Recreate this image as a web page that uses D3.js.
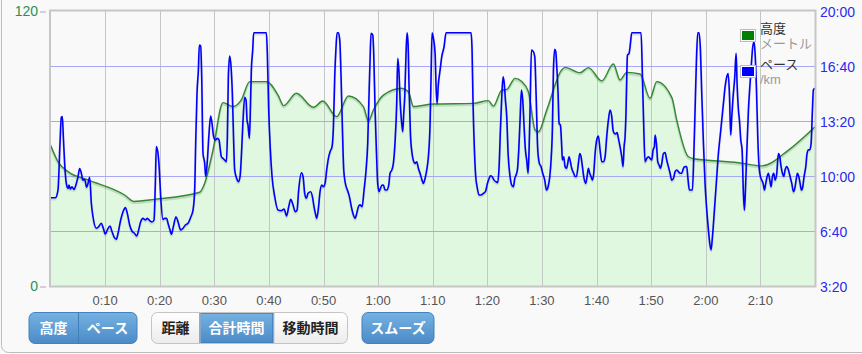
<!DOCTYPE html>
<html>
<head>
<meta charset="utf-8">
<script src="https://cdn.jsdelivr.net/npm/d3@7"></script>
<style>
  body { margin: 0; background: #f9f9f9; }
  svg { display: block; font-family: "Liberation Sans", "Noto Sans CJK JP", sans-serif; }
</style>
</head>
<body>
<svg id="chart" width="862" height="354"></svg>
<script>
// elevation [minutes, metres]
const elevSeries = [
  [0, 61.5], [1.37, 54.3], [3.21, 49.9], [6.87, 46.3], [13.58, 39.7], [15.29, 36.9],
  [19.08, 37.8], [27.32, 40.9], [28.24, 44.8], [29.76, 59.3], [31.59, 80.0], [33.43, 78.3],
  [34.95, 81.2], [36.48, 89.2], [39.53, 89.2], [41.67, 83.3], [42.7, 78.7], [45.02, 84.1],
  [48.14, 78.0], [49.85, 80.7], [52.42, 73.9], [54.55, 82.9], [57.3, 78.3], [58.22, 72.0],
  [59.13, 76.8], [60.96, 83.3], [64.32, 86.3], [65.54, 84.8], [66.46, 78.3], [70.12, 79.4],
  [77.45, 79.7], [80.19, 80.9], [81.11, 78.5], [82.64, 85.5], [83.55, 85.8], [85.08, 90.6],
  [86.3, 89.2], [87.52, 84.8], [88.74, 68.1], [89.35, 67.3], [90.88, 76.8], [93.62, 94.3],
  [94.23, 95.4], [96.98, 93.1], [98.51, 95.3], [100.95, 89.5], [103.08, 96.9], [104.3, 89.9],
  [105.53, 93.2], [107.97, 92.5], [109.8, 81.9], [111.02, 89.2], [113.77, 82.3], [114.68, 72.4],
  [116.82, 56.4], [118.04, 55.4], [119.87, 55.0], [125.98, 53.8], [130.25, 52.4], [135.14, 59.3],
  [140, 69.5]
];

// pace [minutes, seconds per km]
const paceSeries = [
  [0, 521], [0.89, 521], [1.37, 549], [1.74, 719], [1.98, 813], [2.17, 816], [2.35, 743], [2.59, 646],
  [2.9, 573], [3.21, 555], [3.39, 567], [3.63, 553], [3.94, 561], [4.3, 551], [4.73, 573], [5.04, 598],
  [5.34, 627], [5.65, 610], [5.95, 585], [6.26, 588], [6.62, 559], [6.87, 573], [7.17, 595], [7.48, 501],
  [7.78, 452], [8.39, 410], [8.82, 416], [9.31, 428], [9.68, 410], [10.04, 389], [10.41, 404], [10.9, 418],
  [11.26, 398], [11.63, 379], [12.06, 370], [12.36, 391], [12.85, 440], [13.28, 470], [13.71, 485], [14.07, 464],
  [14.5, 422], [14.92, 400], [15.41, 391], [15.78, 382], [16.15, 404], [16.51, 434], [16.94, 446], [17.37, 440],
  [17.73, 446], [18.16, 438], [18.59, 433], [18.96, 440], [19.2, 573], [19.38, 707], [19.69, 682], [19.93, 622],
  [20.18, 525], [20.6, 442], [20.91, 446], [21.28, 446], [21.52, 428], [21.89, 404], [22.13, 388], [22.5, 416],
  [22.98, 452], [23.35, 434], [23.84, 404], [24.27, 410], [24.7, 422], [25.18, 428], [25.67, 450], [26.1, 476],
  [26.4, 549], [26.59, 719], [26.83, 901], [27.08, 985], [27.26, 1076], [27.5, 1073], [27.69, 961], [27.93, 682],
  [28.24, 646], [28.42, 598], [28.73, 658], [29.03, 755], [29.33, 818], [29.58, 791], [29.88, 743], [30.19, 731],
  [30.56, 737], [30.86, 731], [31.1, 695], [31.29, 670], [31.59, 664], [31.9, 658], [32.2, 652], [32.39, 743],
  [32.57, 961], [32.82, 1036], [33.06, 998], [33.3, 901], [33.55, 719], [33.73, 622], [34.1, 591], [34.4, 579],
  [34.71, 598], [34.95, 670], [35.2, 779], [35.56, 886], [35.81, 876], [35.99, 804], [36.17, 785], [36.42, 737],
  [36.6, 840], [36.78, 985], [37.03, 1058], [37.21, 1121], [39.53, 1121], [39.71, 1046], [39.96, 840], [40.26, 695],
  [40.57, 598], [41.06, 525], [41.67, 476], [42.28, 474], [42.77, 480], [43.25, 455], [43.62, 488], [43.99, 515],
  [44.41, 495], [44.84, 470], [45.15, 476], [45.45, 549], [45.94, 612], [46.25, 598], [46.55, 537], [46.86, 519],
  [47.16, 537], [47.65, 543], [48.02, 519], [48.26, 488], [48.51, 464], [48.75, 446], [49.06, 482], [49.36, 543],
  [49.67, 567], [49.97, 561], [50.28, 573], [50.58, 622], [50.89, 664], [51.19, 688], [51.56, 707], [51.81, 779],
  [52.05, 961], [52.29, 1070], [52.48, 1121], [52.72, 1121], [52.97, 1094], [53.21, 961], [53.45, 779], [53.7, 622],
  [54.0, 573], [54.37, 549], [54.74, 525], [55.16, 482], [55.47, 458], [55.77, 446], [56.08, 464], [56.38, 488],
  [56.69, 495], [57.06, 488], [57.42, 549], [57.79, 622], [58.09, 719], [58.34, 901], [58.52, 1022], [58.7, 1119],
  [59.01, 1113], [59.19, 1046], [59.44, 840], [59.68, 695], [59.92, 573], [60.17, 543], [60.41, 555], [60.72, 567],
  [60.96, 567], [61.27, 549], [61.57, 549], [61.94, 567], [62.18, 610], [62.55, 624], [62.79, 646], [63.1, 725],
  [63.4, 864], [63.59, 1028], [63.83, 973], [64.02, 876], [64.26, 804], [64.5, 761], [64.69, 828], [64.87, 888],
  [65.11, 1046], [65.3, 1121], [65.48, 1082], [65.66, 925], [65.91, 755], [66.21, 682], [66.52, 652], [66.76, 646],
  [67.07, 652], [67.37, 628], [67.68, 610], [68.04, 585], [68.29, 573], [68.59, 591], [68.9, 622], [69.2, 670],
  [69.51, 791], [69.69, 961], [69.88, 1121], [70.12, 1101], [70.43, 1046], [70.61, 925], [70.79, 864], [71.04, 937],
  [71.34, 985], [71.65, 1034], [72.07, 1070], [72.44, 1121], [77.02, 1121], [77.2, 1058], [77.38, 864], [77.63, 695],
  [77.87, 598], [78.12, 561], [78.48, 531], [78.85, 531], [79.28, 537], [79.64, 543], [80.01, 573], [80.32, 591],
  [80.56, 601], [80.86, 598], [81.23, 585], [81.6, 579], [81.9, 576], [82.15, 634], [82.39, 767], [82.64, 888],
  [82.88, 961], [83.06, 943], [83.31, 876], [83.55, 816], [83.8, 682], [84.16, 598], [84.47, 567], [84.77, 561],
  [85.02, 591], [85.26, 604], [85.5, 622], [85.75, 695], [85.99, 804], [86.24, 913], [86.48, 876], [86.73, 779],
  [86.97, 695], [87.21, 658], [87.46, 610], [87.64, 695], [87.82, 840], [88.07, 1058], [88.43, 1052], [88.68, 1034],
  [88.92, 901], [89.23, 695], [89.53, 646], [89.84, 634], [90.14, 610], [90.51, 585], [90.82, 549], [91.12, 561],
  [91.43, 598], [91.67, 658], [91.92, 779], [92.1, 985], [92.34, 1061], [92.53, 1052], [92.71, 998], [92.95, 901],
  [93.14, 791], [93.38, 785], [93.62, 707], [93.74, 658], [93.99, 670], [94.23, 634], [94.48, 628], [94.72, 646],
  [94.96, 670], [95.21, 652], [95.45, 628], [95.82, 610], [96.06, 598], [96.31, 598], [96.67, 646], [96.92, 682],
  [97.16, 670], [97.41, 634], [97.65, 598], [98.02, 573], [98.26, 598], [98.51, 628], [98.75, 610], [98.99, 598],
  [99.24, 585], [99.48, 610], [99.73, 682], [100.03, 731], [100.34, 745], [100.64, 695], [100.95, 652], [101.25, 652],
  [101.56, 670], [101.86, 743], [102.17, 804], [102.47, 840], [102.78, 816], [103.02, 767], [103.27, 755], [103.51, 753],
  [103.76, 758], [104.0, 737], [104.3, 707], [104.61, 670], [104.85, 634], [105.04, 707], [105.22, 743], [105.4, 840],
  [105.53, 961], [105.65, 1040], [105.95, 1046], [106.2, 1082], [106.44, 1121], [108.15, 1121], [108.4, 961], [108.64, 779],
  [108.88, 652], [109.19, 664], [109.49, 670], [109.8, 664], [110.1, 658], [110.35, 695], [110.59, 707], [110.72, 749],
  [110.96, 719], [111.2, 652], [111.45, 640], [111.69, 628], [111.94, 646], [112.24, 682], [112.55, 685], [112.85, 658],
  [113.16, 634], [113.46, 610], [113.77, 585], [114.07, 591], [114.38, 616], [114.68, 622], [114.99, 616], [115.29, 610],
  [115.6, 610], [115.9, 628], [116.21, 634], [116.51, 634], [116.7, 598], [117.0, 549], [117.31, 549], [117.55, 549],
  [117.8, 670], [118.04, 840], [118.29, 1022], [118.53, 1121], [118.77, 1121], [119.02, 1058], [119.26, 901], [119.57, 719],
  [119.87, 573], [120.18, 476], [120.48, 404], [120.73, 355], [120.97, 331], [121.22, 379], [121.58, 476], [122.01, 598],
  [122.31, 682], [122.62, 743], [122.93, 804], [123.23, 864], [123.54, 925], [123.84, 961], [124.09, 973], [124.33, 901],
  [124.57, 749], [124.76, 816], [125.0, 888], [125.31, 961], [125.55, 1046], [125.73, 937], [125.98, 840], [126.16, 804],
  [126.41, 731], [126.65, 695], [126.89, 537], [127.08, 476], [127.26, 549], [127.5, 682], [127.81, 840], [128.11, 937],
  [128.36, 1010], [128.6, 1070], [128.85, 1088], [129.03, 1046], [129.27, 925], [129.52, 743], [129.76, 634], [130.01, 598],
  [130.25, 585], [130.5, 573], [130.74, 549], [130.98, 573], [131.23, 598], [131.47, 610], [131.72, 585], [131.96, 561],
  [132.2, 598], [132.45, 610], [132.69, 585], [133.0, 610], [133.3, 682], [133.55, 670], [133.79, 634], [134.04, 610],
  [134.28, 598], [134.52, 622], [134.83, 634], [135.14, 622], [135.44, 598], [135.75, 573], [136.05, 543], [136.3, 555],
  [136.54, 585], [136.78, 610], [137.03, 598], [137.27, 573], [137.52, 549], [137.76, 561], [138.0, 598], [138.31, 634],
  [138.55, 682], [138.8, 695], [139.04, 695], [139.29, 719], [139.53, 840], [139.71, 913], [140, 919]
];

const timeTicks = [10, 20, 30, 40, 50, 60, 70, 80, 90, 100, 110, 120, 130];
const elevTicks = [0, 120];
const paceTicks = [200, 400, 600, 800, 1000, 1200];
const legendItems = [
  { name: "高度", unit: "メートル", color: "#008000" },
  { name: "ペース", unit: "/km", color: "#0000ff" }
];
const buttonGroups = [
  { labels: ["高度", "ペース"], active: [true, true] },
  { labels: ["距離", "合計時間", "移動時間"], active: [false, true, false] },
  { labels: ["スムーズ"], active: [true] }
];

const W = 862, H = 354;
const plot = { left: 50.5, right: 815, top: 11, bottom: 286 };

const svg = d3.select("#chart");
const defs = svg.append("defs");

// container frame
svg.append("rect")
  .attr("x", 1.5).attr("y", -20).attr("width", W + 20).attr("height", 372.5)
  .attr("rx", 7).attr("fill", "#f9f9f9").attr("stroke", "#bdbdbd");

const x = d3.scaleLinear().domain([0, 140]).range([plot.left, plot.right]);
const yElev = d3.scaleLinear().domain([0, 120]).range([plot.bottom, plot.top]);
const yPace = d3.scaleLinear().domain([200, 1200]).range([plot.bottom, plot.top]);

const fmtTime = m => Math.floor(m / 60) + ":" + String(m % 60).padStart(2, "0");
const fmtPace = s => Math.floor(s / 60) + ":" + String(s % 60).padStart(2, "0");

defs.append("clipPath").attr("id", "plotClip")
  .append("rect")
  .attr("x", plot.left).attr("y", plot.top)
  .attr("width", plot.right - plot.left).attr("height", plot.bottom - plot.top);

// plot background
svg.append("rect")
  .attr("x", plot.left).attr("y", plot.top)
  .attr("width", plot.right - plot.left).attr("height", plot.bottom - plot.top)
  .attr("fill", "#f9f9f9");

const g = svg.append("g").attr("clip-path", "url(#plotClip)");

// elevation area
const elevArea = d3.area()
  .x(d => x(d[0])).y0(plot.bottom).y1(d => yElev(d[1]))
  .curve(d3.curveMonotoneX);
g.append("path").datum(elevSeries)
  .attr("fill", "#e0f8e0").attr("d", elevArea);

// vertical grid
g.append("g")
  .selectAll("line").data(timeTicks).join("line")
  .attr("x1", d => Math.round(x(d)) + 0.5).attr("x2", d => Math.round(x(d)) + 0.5)
  .attr("y1", plot.top).attr("y2", plot.bottom)
  .attr("stroke", "#c4c8c4").attr("stroke-width", 1);

// horizontal grid (pace ticks)
g.append("g")
  .selectAll("line").data(paceTicks.slice(1, -1)).join("line")
  .attr("x1", plot.left).attr("x2", plot.right)
  .attr("y1", d => Math.round(yPace(d)) + 0.5).attr("y2", d => Math.round(yPace(d)) + 0.5)
  .attr("stroke", "#a8a8f4").attr("stroke-width", 1);

// elevation line with a soft shadow
const elevLine = d3.line().x(d => x(d[0])).y(d => yElev(d[1])).curve(d3.curveMonotoneX);
g.append("path").datum(elevSeries)
  .attr("fill", "none").attr("stroke", "rgba(0,0,0,0.12)").attr("stroke-width", 2.5)
  .attr("transform", "translate(0,1.5)").attr("d", elevLine);
g.append("path").datum(elevSeries)
  .attr("fill", "none").attr("stroke", "#2e8b2e").attr("stroke-width", 1.4)
  .attr("d", elevLine);

// pace line
const paceLine = d3.line().x(d => x(d[0])).y(d => yPace(d[1])).curve(d3.curveMonotoneX);
g.append("path").datum(paceSeries)
  .attr("fill", "none").attr("stroke", "rgba(0,0,0,0.1)").attr("stroke-width", 2.5)
  .attr("transform", "translate(0,1.5)").attr("d", paceLine);
g.append("path").datum(paceSeries)
  .attr("fill", "none").attr("stroke", "#0000ff").attr("stroke-width", 1.6)
  .attr("stroke-linejoin", "round").attr("d", paceLine);

// plot border
svg.append("rect")
  .attr("x", plot.left - 0.5).attr("y", plot.top - 0.5)
  .attr("width", plot.right - plot.left + 1).attr("height", plot.bottom - plot.top + 1)
  .attr("fill", "none").attr("stroke", "#c6c6c6").attr("stroke-width", 2);

// x axis labels
svg.append("g")
  .selectAll("text").data(timeTicks).join("text")
  .attr("x", d => x(d)).attr("y", 305)
  .attr("text-anchor", "middle").attr("font-size", 13).attr("fill", "#555")
  .text(fmtTime);

// left axis
const leftAxis = svg.append("g");
leftAxis.selectAll("line").data(elevTicks).join("line")
  .attr("x1", 40).attr("x2", 46)
  .attr("y1", d => yElev(d) + 1).attr("y2", d => yElev(d) + 1)
  .attr("stroke", "#aaa");
leftAxis.selectAll("text").data(elevTicks).join("text")
  .attr("x", 38).attr("y", d => yElev(d) + 5)
  .attr("text-anchor", "end").attr("font-size", 14).attr("fill", "#2f8f4f")
  .text(d => d);

// right axis
svg.append("g")
  .selectAll("text").data(paceTicks).join("text")
  .attr("x", 820).attr("y", d => yPace(d) + 5.5)
  .attr("font-size", 14).attr("fill", "#2a2af0")
  .text(fmtPace);

// legend
const legend = svg.append("g").attr("transform", "translate(740,22)");
legendItems.forEach((item, i) => {
  const row = legend.append("g").attr("transform", `translate(0,${i * 36})`);
  row.append("rect").attr("x", 0.5).attr("y", 7.5).attr("width", 15).attr("height", 12)
    .attr("fill", "#fff").attr("stroke", "#bbb");
  row.append("rect").attr("x", 2).attr("y", 9).attr("width", 12).attr("height", 9)
    .attr("fill", item.color);
  row.append("text").attr("x", 20).attr("y", 11)
    .attr("font-size", 13).attr("fill", "#333").text(item.name);
  row.append("text").attr("x", 20).attr("y", 26)
    .attr("font-size", 13).attr("fill", "#999").text(item.unit);
});

// buttons below the chart
const blueTop = defs.append("linearGradient").attr("id", "btnBlue")
  .attr("x1", 0).attr("y1", 0).attr("x2", 0).attr("y2", 1);
blueTop.append("stop").attr("offset", "0%").attr("stop-color", "#76b2e2");
blueTop.append("stop").attr("offset", "100%").attr("stop-color", "#4a8ac6");
const greyTop = defs.append("linearGradient").attr("id", "btnGrey")
  .attr("x1", 0).attr("y1", 0).attr("x2", 0).attr("y2", 1);
greyTop.append("stop").attr("offset", "0%").attr("stop-color", "#ffffff");
greyTop.append("stop").attr("offset", "100%").attr("stop-color", "#ececec");

const groupBoxes = [
  { x0: 29, widths: [49, 59] },
  { x0: 151.5, widths: [48, 74, 74] },
  { x0: 362, widths: [72] }
];
const btnY = 312.5, btnH = 31;

buttonGroups.forEach((grp, gi) => {
  const box = groupBoxes[gi];
  const total = d3.sum(box.widths);
  const bg = svg.append("g");
  const clipId = "btnClip" + gi;
  defs.append("clipPath").attr("id", clipId)
    .append("rect").attr("x", box.x0).attr("y", btnY).attr("width", total).attr("height", btnH).attr("rx", 6);
  bg.append("rect").attr("x", box.x0).attr("y", btnY).attr("width", total).attr("height", btnH).attr("rx", 6)
    .attr("fill", "url(#btnGrey)");
  let cx = box.x0;
  grp.labels.forEach((lab, li) => {
    const w = box.widths[li];
    if (grp.active[li]) {
      bg.append("rect").attr("clip-path", `url(#${clipId})`)
        .attr("x", cx).attr("y", btnY).attr("width", w).attr("height", btnH)
        .attr("fill", "url(#btnBlue)");
      if (grp.labels.length === 3) {
        bg.append("rect").attr("x", cx + 0.5).attr("y", btnY + 0.5).attr("width", w - 1).attr("height", btnH - 1)
          .attr("fill", "none").attr("stroke", "#3a7fc0").attr("stroke-width", 1.5);
      }
    }
    if (li > 0) {
      bg.append("line").attr("x1", cx + 0.5).attr("x2", cx + 0.5).attr("y1", btnY).attr("y2", btnY + btnH)
        .attr("stroke", grp.active[li] && grp.active[li - 1] ? "#3f7db8" : "#c8c8c8");
    }
    bg.append("text").attr("x", cx + w / 2).attr("y", btnY + 20.5)
      .attr("text-anchor", "middle").attr("font-size", 14).attr("font-weight", "bold")
      .attr("font-family", "'Noto Sans CJK JP', sans-serif")
      .attr("fill", grp.active[li] ? "#fff" : "#222")
      .text(lab);
    cx += w;
  });
  bg.append("rect").attr("x", box.x0).attr("y", btnY).attr("width", total).attr("height", btnH).attr("rx", 6)
    .attr("fill", "none").attr("stroke", grp.active.every(a => a) ? "#4581bd" : "#c4c4c4");
});
</script>
</body>
</html>
